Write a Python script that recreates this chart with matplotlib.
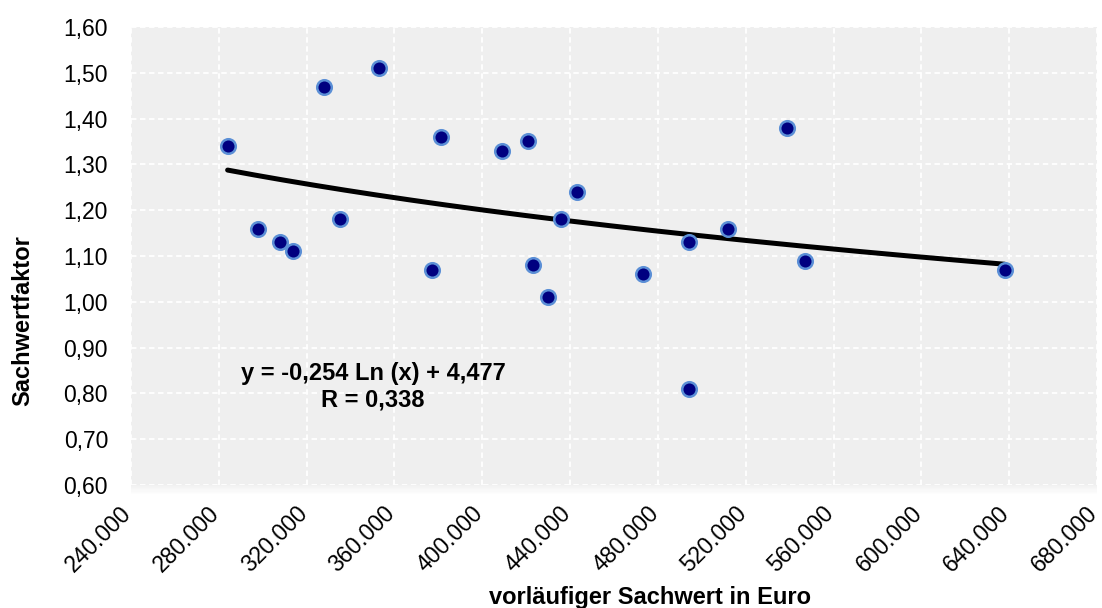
#!/usr/bin/env python3
"""
Sachwertfaktor vs. vorläufiger Sachwert with logarithmic trend line.
"""

import numpy as np
import matplotlib
matplotlib.use("Agg")
import matplotlib.pyplot as plt
from matplotlib.patches import Rectangle
from matplotlib.transforms import ScaledTranslation
from matplotlib.ticker import FuncFormatter, MultipleLocator

plt.rcParams['font.family'] = ['Liberation Sans', 'DejaVu Sans']

# data
sachwert = [284000, 298000, 308000, 314000, 328000, 335000, 353000, 377000,
            381000, 409000, 421000, 423000, 430000, 436000, 443000, 473000,
            494000, 494000, 512000, 539000, 547000, 638000]
faktor = [1.34, 1.16, 1.13, 1.11, 1.47, 1.18, 1.51, 1.07,
          1.36, 1.33, 1.35, 1.08, 1.01, 1.18, 1.24, 1.06,
          0.81, 1.13, 1.16, 1.38, 1.09, 1.07]

# trend line coefficients as printed on the chart
trend_a = -0.254
trend_b = 4.477
trend_label = "y = -0,254 Ln (x) + 4,477\nR = 0,338"

fig = plt.figure(figsize=(11.02, 6.08), dpi=100)
ax = fig.add_axes([0.1189, 0.2023, 0.8766, 0.7533])
ax.set_facecolor('#efefef')

# faint shadow under the plot area
for i in range(8):
    fig.patches.append(Rectangle((0.1189, 0.2023 - (i + 1) * 0.0018), 0.8766, 0.0018,
                                 transform=fig.transFigure, color='#e4e4e4',
                                 alpha=0.5 * (1 - i / 8), linewidth=0, zorder=0))

ax.grid(True, color='white', linestyle=(0, (3, 2)), linewidth=1.3)
ax.set_axisbelow(True)
for s in ax.spines.values():
    s.set_visible(False)

xs = np.linspace(min(sachwert), max(sachwert), 200)
ax.plot(xs, trend_a * np.log(xs) + trend_b, color='black', linewidth=3.6,
        solid_capstyle='round', zorder=2)

ax.scatter(sachwert, faktor, s=110, color='#000080', edgecolor='#5b8fd6',
           linewidth=1.8, zorder=3)

ax.set_xlim(240000, 680000)
ax.set_ylim(0.6, 1.6)
ax.xaxis.set_major_locator(MultipleLocator(40000))
ax.yaxis.set_major_locator(MultipleLocator(0.1))
ax.xaxis.set_major_formatter(FuncFormatter(lambda v, p: f"{v:,.0f}".replace(',', '.')))
ax.yaxis.set_major_formatter(FuncFormatter(lambda v, p: f"{v:.2f}".replace('.', ',')))
ax.tick_params(length=0, labelsize=16.5, colors='black')
ax.tick_params(axis='y', pad=16.5)
ax.tick_params(axis='x', pad=18)
shift = ScaledTranslation(-3 / 100, 0, fig.dpi_scale_trans)
for lbl in ax.get_xticklabels():
    lbl.set_rotation(45)
    lbl.set_ha('right')
    lbl.set_va('center')
    lbl.set_rotation_mode('anchor')
    lbl.set_transform(lbl.get_transform() + shift)

ax.text(350200, 0.814, trend_label, ha='center', va='center', fontsize=17,
        fontweight='bold', linespacing=1.2)

ax.set_xlabel("vorläufiger Sachwert in Euro", fontsize=17, fontweight='bold',
              va='center')
ax.xaxis.set_label_coords(0.537, -0.245)
ax.set_ylabel("Sachwertfaktor", fontsize=17, fontweight='bold', va='center')
ax.yaxis.set_label_coords(-0.112, 0.358)

fig.savefig("out.png", dpi=100)
